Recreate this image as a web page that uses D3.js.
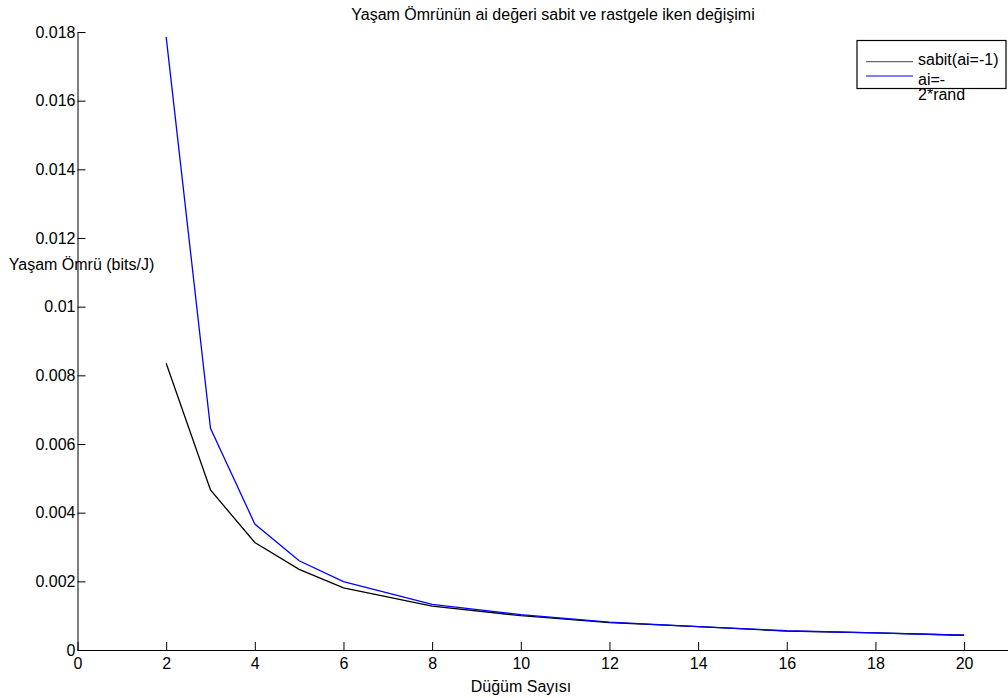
<!DOCTYPE html>
<html>
<head>
<meta charset="utf-8">
<script src="https://cdn.jsdelivr.net/npm/d3@7"></script>
<style>
  html, body { margin: 0; padding: 0; background: #fff; }
  svg { display: block; font-family: "Liberation Sans", Arial, Helvetica, sans-serif; }
</style>
</head>
<body>
<svg id="chart" width="1008" height="698"></svg>
<script>
// Node counts on the horizontal axis
const nodeCounts = [2, 3, 4, 5, 6, 8, 10, 12, 14, 16, 18, 20];
// Lifetime with a fixed coefficient (ai = -1)
const lifetimeFixed = [0.00835, 0.00466, 0.00313, 0.00235, 0.00181, 0.00128, 0.00100, 0.00080, 0.00068, 0.00055, 0.00050, 0.00043];
// Lifetime with a random coefficient (ai = -2*rand)
const lifetimeRandom = [0.01786, 0.00646, 0.00367, 0.00260, 0.00199, 0.00133, 0.00103, 0.00081, 0.00068, 0.00056, 0.00050, 0.00043];
const xTickValues = [0, 2, 4, 6, 8, 10, 12, 14, 16, 18, 20];
const yTickValues = [0, 0.002, 0.004, 0.006, 0.008, 0.01, 0.012, 0.014, 0.016, 0.018];
const seriesNames = ["sabit(ai=-1)", "ai=-\n2*rand"];
const seriesColors = ["#000000", "#0000ff"];

const svg = d3.select("#chart");
const plotLeft = 77.5, plotRight = 1008, plotTop = 32, plotBottom = 650;
const fontSize = 16;

const x = d3.scaleLinear().domain([0, 21]).range([plotLeft, plotLeft + 21 * 44.33]);
const y = d3.scaleLinear().domain([0, 0.018]).range([plotBottom, plotTop]);

const fmtY = v => v === 0 ? "0" : String(+v.toFixed(3));

// x axis (ticks pointing inward)
const xAxis = d3.axisBottom(x).tickValues(xTickValues).tickSizeInner(-8).tickSizeOuter(0).tickPadding(8).tickFormat(d3.format("d"));
const gx = svg.append("g").attr("transform", `translate(0,${plotBottom})`).call(xAxis);
gx.select(".domain").attr("d", `M${plotLeft},0.5H${plotRight}`).attr("stroke", "#000");
gx.selectAll(".tick line").attr("stroke", "#000");
gx.selectAll(".tick text").attr("font-size", fontSize).attr("fill", "#000").attr("font-family", "Liberation Sans, Arial, sans-serif");

// y axis (ticks pointing inward)
const yAxis = d3.axisLeft(y).tickValues(yTickValues).tickSizeInner(-8).tickSizeOuter(0).tickPadding(2).tickFormat(fmtY);
const gy = svg.append("g").attr("transform", `translate(${plotLeft},0)`).call(yAxis);
gy.select(".domain").attr("stroke", "#000");
gy.selectAll(".tick line").attr("stroke", "#000");
gy.selectAll(".tick text").attr("font-size", fontSize).attr("fill", "#000").attr("font-family", "Liberation Sans, Arial, sans-serif");

// data lines
const line = d3.line().x((d, i) => x(nodeCounts[i])).y(d => y(d));
[lifetimeFixed, lifetimeRandom].forEach((vals, k) => {
  svg.append("path").datum(vals)
    .attr("fill", "none").attr("stroke", seriesColors[k]).attr("stroke-width", 1.3)
    .attr("d", line);
});

// title and axis labels
svg.append("text").attr("x", 553).attr("y", 20).attr("text-anchor", "middle")
  .attr("font-size", fontSize).text("Yaşam Ömrünün ai değeri sabit ve rastgele iken değişimi");
svg.append("text").attr("x", 521).attr("y", 692).attr("text-anchor", "middle")
  .attr("font-size", fontSize).text("Düğüm Sayısı");
svg.append("text").attr("x", 81.5).attr("y", 270).attr("text-anchor", "middle")
  .attr("font-size", fontSize).text("Yaşam Ömrü (bits/J)");

// legend
const lg = svg.append("g");
lg.append("rect").attr("x", 857).attr("y", 40.5).attr("width", 149).attr("height", 48)
  .attr("fill", "#fff").attr("stroke", "#000").attr("stroke-width", 1.2);
const lineY = [61.7, 76];
const textY = [65, 84.5];
seriesNames.forEach((name, k) => {
  lg.append("line").attr("x1", 866).attr("x2", 913).attr("y1", lineY[k]).attr("y2", lineY[k])
    .attr("stroke", k === 0 ? "#444" : seriesColors[k]).attr("stroke-width", 1);
  const t = lg.append("text").attr("x", 918).attr("y", textY[k]).attr("font-size", fontSize);
  name.split("\n").forEach((part, j) => {
    t.append("tspan").attr("x", 918).attr("dy", j === 0 ? 0 : 15.5).text(part);
  });
});
</script>
</body>
</html>
